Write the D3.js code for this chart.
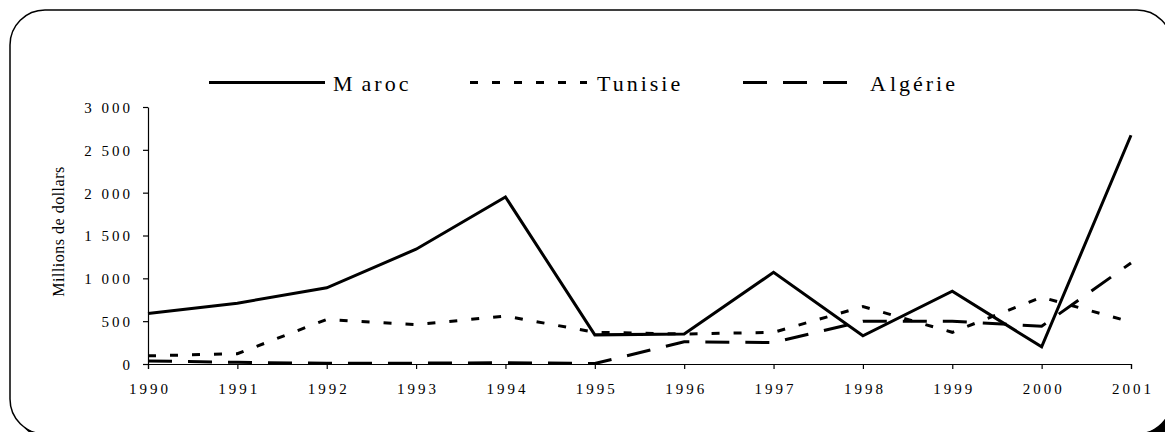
<!DOCTYPE html>
<html>
<head>
<meta charset="utf-8">
<script src="https://cdn.jsdelivr.net/npm/d3@7"></script>
<style>
  body { margin: 0; background: #fff; }
  svg { display: block; }
</style>
</head>
<body>
<svg id="chart"></svg>
<script>
// data (millions of dollars)
var years = [1990, 1991, 1992, 1993, 1994, 1995, 1996, 1997, 1998, 1999, 2000, 2001]
var maroc = [590, 710, 890, 1340, 1950, 340, 350, 1070, 330, 850, 200, 2670]
var tunisie = [95, 120, 520, 460, 560, 370, 350, 370, 670, 370, 780, 490]
var algerie = [35, 20, 8, 10, 15, 5, 260, 250, 500, 500, 440, 1180]
var seriesNames = ["Maroc", "Tunisie", "Algérie"]
var yTicks = [0, 500, 1000, 1500, 2000, 2500, 3000]
var yTickLabels = ["0", "500", "1 000", "1 500", "2 000", "2 500", "3 000"]

var serifFont = "'Liberation Serif', 'Times New Roman', serif"

var dimensions = {
    width: 1165,
    height: 432,
    margin: { top: 107, bottom: 68, right: 34, left: 148 }
}

var svg = d3.select("#chart")
            .attr("width", dimensions.width)
            .attr("height", dimensions.height)
            .style("font-family", serifFont)

// rounded frame with a shadow
svg.append("rect")
   .attr("x", 16).attr("y", 16)
   .attr("width", 1162).attr("height", 424)
   .attr("rx", 35).attr("ry", 35)
   .attr("fill", "#000")
svg.append("rect")
   .attr("x", 10).attr("y", 10)
   .attr("width", 1162).attr("height", 424)
   .attr("rx", 35).attr("ry", 35)
   .attr("fill", "#fff")
   .attr("stroke", "#000")
   .attr("stroke-width", 1.5)

var xScale = d3.scaleLinear()
               .domain([d3.min(years), d3.max(years)])
               .range([dimensions.margin.left, dimensions.width - dimensions.margin.right])

var yScale = d3.scaleLinear()
               .domain([0, 3000])
               .range([dimensions.height - dimensions.margin.bottom, dimensions.margin.top])

var styles = [
    { dash: null },
    { dash: "8,14" },
    { dash: "24,16" }
]

var dataset = [maroc, tunisie, algerie].map((vals, i) => ({
    name: seriesNames[i],
    dash: styles[i].dash,
    values: vals.map((v, j) => ({ year: years[j], value: v }))
}))

// axes
var xAxisGen = d3.axisBottom().scale(xScale)
                 .tickValues(years)
                 .tickFormat(d3.format("d"))
                 .tickSize(5).tickSizeOuter(5).tickPadding(14)
var xAxis = svg.append("g")
               .attr("transform", `translate(0,${yScale(0)})`)
               .call(xAxisGen)
               .attr("font-family", null)
xAxis.selectAll("text")
     .style("font-family", serifFont)
     .style("font-size", "15px")
     .style("letter-spacing", "3px")
     .attr("dx", "1.5px")

var yAxisGen = d3.axisLeft().scale(yScale)
                 .tickValues(yTicks)
                 .tickFormat((d, i) => yTickLabels[i])
                 .tickSize(5).tickSizeOuter(0).tickPadding(10)
var yAxis = svg.append("g")
               .attr("transform", `translate(${xScale(years[0])},0)`)
               .call(yAxisGen)
               .attr("font-family", null)
yAxis.selectAll("text")
     .style("font-family", serifFont)
     .style("font-size", "15px")
     .style("letter-spacing", "3px")
     .attr("dy", "0.36em")

svg.selectAll(".domain, .tick line")
   .attr("stroke", "#000")
   .attr("stroke-width", 1.2)

svg.append("text")
   .attr("transform", "translate(64,231.5) rotate(-90)")
   .attr("text-anchor", "middle")
   .style("font-family", serifFont)
   .style("font-size", "16px")
   .style("letter-spacing", "0.5px")
   .text("Millions de dollars")

// lines
var line = d3.line()
             .x(d => xScale(d.year))
             .y(d => yScale(d.value))

svg.append("g")
   .selectAll(".line")
   .data(dataset)
   .enter()
   .append("path")
   .attr("class", "line")
   .attr("d", d => line(d.values))
   .attr("fill", "none")
   .attr("stroke", "#000")
   .attr("stroke-width", 3)
   .attr("stroke-dasharray", d => d.dash)

// legend
var legendItems = [
    { x1: 209, x2: 325, tx: 333, gap: 6 },
    { x1: 470, x2: 587, tx: 597, gap: 0 },
    { x1: 743, x2: 847, tx: 870, gap: 1 }
]
var legend = svg.append("g")
                .selectAll("g")
                .data(dataset)
                .enter()
                .append("g")

legend.append("line")
      .attr("x1", (d, i) => legendItems[i].x1)
      .attr("x2", (d, i) => legendItems[i].x2)
      .attr("y1", 82.5).attr("y2", 82.5)
      .attr("stroke", "#000")
      .attr("stroke-width", 3)
      .attr("stroke-dasharray", d => d.dash)

var ltext = legend.append("text")
                  .attr("x", (d, i) => legendItems[i].tx)
                  .attr("y", 91)
                  .style("font-family", serifFont)
                  .style("font-size", "22px")
                  .style("letter-spacing", "3px")
ltext.append("tspan").text(d => d.name[0])
ltext.append("tspan").attr("dx", (d, i) => legendItems[i].gap).text(d => d.name.slice(1))
</script>
</body>
</html>
